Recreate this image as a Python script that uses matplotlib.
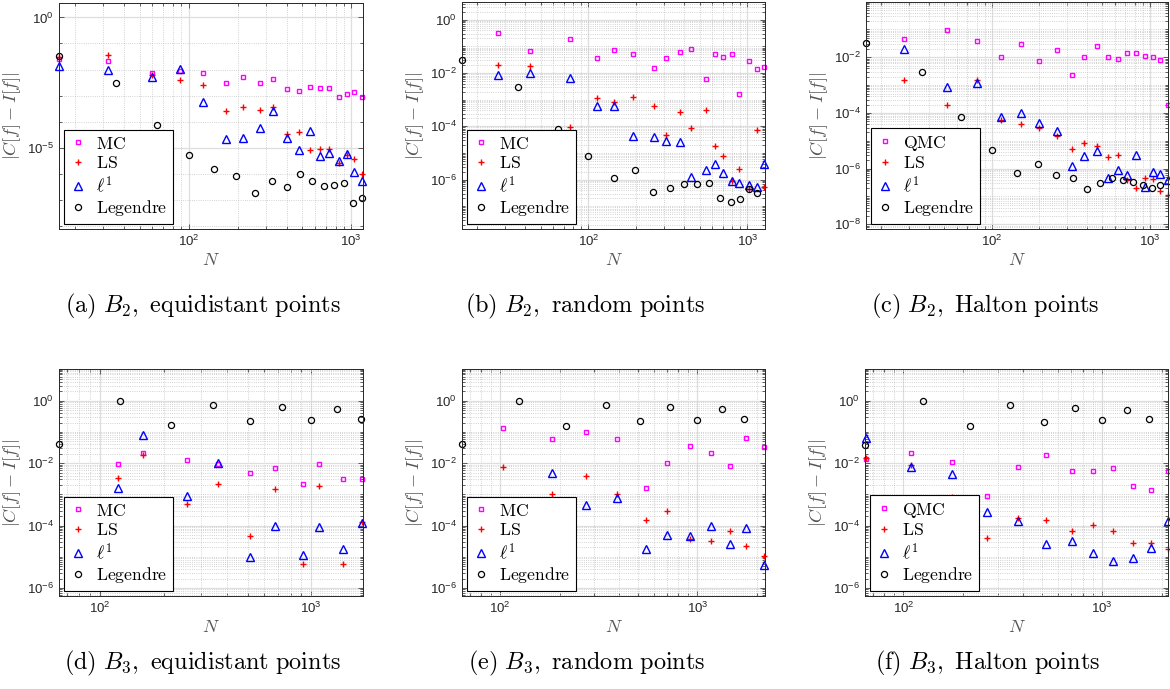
import numpy as np
import matplotlib
matplotlib.use("Agg")
import matplotlib.pyplot as plt
from matplotlib.ticker import FixedLocator, LogLocator, NullFormatter

plt.rcParams["font.family"] = ["Liberation Sans", "DejaVu Sans"]
plt.rcParams["mathtext.fontset"] = "cm"

# ---- data --------------------------------------------------------------
n_leg_2d = [16, 36, 64, 100, 144, 196, 256, 324, 400, 484, 576, 676, 784, 900, 1024, 1156]
n_leg_3d = [64, 125, 216, 343, 512, 729, 1000, 1331, 1728]

# (a) B2, equidistant
n_a = [16, 32, 60, 88, 123, 171, 215, 273, 330, 402, 479, 554, 639, 729, 840, 940, 1042, 1170]
mc_a = [2.6e-2, 2.09e-2, 7.1e-3, 8.9e-3, 7.1e-3, 3.1e-3, 5.1e-3, 2.9e-3, 4.4e-3, 1.8e-3,
        1.55e-3, 2.2e-3, 1.95e-3, 1.95e-3, 8.9e-4, 1.1e-3, 1.4e-3, 9.1e-4]
ls_a = [3.1e-2, 3.5e-2, 6.0e-3, 3.9e-3, 2.6e-3, 2.5e-4, 3.5e-4, 2.9e-4, 3.6e-4, 3.2e-5,
        3.8e-5, 7.9e-6, 8.7e-6, 8.7e-6, 2.6e-6, 5.1e-6, 3.5e-6, 9.3e-7]
l1_a = [1.4e-2, 1.0e-2, 5.2e-3, 1.02e-2, 5.8e-4, 2.2e-5, 2.4e-5, 5.5e-5, 2.6e-4, 2.4e-5,
        7.9e-6, 4.2e-5, 4.8e-6, 6.2e-6, 3.1e-6, 5.5e-6, 1.1e-6, 5.2e-7]
leg_a = [3.2e-2, 2.9e-3, 7.2e-5, 5.1e-6, 1.5e-6, 7.9e-7, 1.8e-7, 5.1e-7, 3.1e-7, 9.8e-7,
         5.1e-7, 3.2e-7, 3.5e-7, 4.2e-7, 7.2e-8, 1.2e-7]

# (b) B2, random
n_b = [27, 43, 76, 113, 145, 191, 259, 308, 379, 443, 551, 628, 705, 796, 890, 1025, 1141, 1274]
mc_b = [0.32, 6.6e-2, 0.195, 3.7e-2, 7.1e-2, 5.0e-2, 1.48e-2, 3.5e-2, 6.2e-2, 7.8e-2,
        5.8e-3, 5.2e-2, 4.1e-2, 5.1e-2, 1.6e-3, 2.9e-2, 1.38e-2, 1.74e-2]
ls_b = [1.95e-2, 1.78e-2, 9.1e-5, 1.17e-3, 8.1e-4, 1.29e-3, 5.6e-4, 4.6e-5, 3.3e-4, 8.9e-5,
        4.2e-4, 1.8e-5, 7.4e-6, 9.1e-7, 2.5e-6, 4.5e-7, 7.1e-5, 5.2e-7]
l1_b = [8.1e-3, 1.0e-2, 6.3e-3, 5.8e-4, 5.8e-4, 4.2e-5, 4.0e-5, 2.8e-5, 2.5e-5, 1.3e-6,
        2.2e-6, 3.7e-6, 1.7e-6, 9.1e-7, 7.2e-7, 6.2e-7, 5.1e-7, 4.0e-6]
leg_b = [3.2e-2, 3.0e-3, 7.8e-5, 7.4e-6, 1.15e-6, 2.2e-6, 3.3e-7, 4.9e-7, 6.9e-7, 7.1e-7,
         7.4e-7, 2.1e-7, 1.4e-7, 1.8e-7, 4.4e-7, 3.2e-7]

# (c) B2, Halton
n_c = [28, 52, 80, 114, 152, 200, 257, 322, 384, 462, 540, 624, 719, 819, 929, 1040, 1157, 1300]
mc_c = [4.5e-2, 9.3e-2, 4.0e-2, 1.0e-2, 3.0e-2, 7.4e-3, 1.8e-2, 2.4e-3, 1.0e-2, 2.6e-2,
        1.05e-2, 8.7e-3, 1.38e-2, 1.38e-2, 1.15e-2, 1.05e-2, 7.9e-3, 2.0e-4]
ls_c = [1.48e-3, 2.0e-4, 1.5e-3, 5.5e-5, 3.9e-5, 3.0e-5, 1.5e-5, 5.1e-6, 8.3e-6, 6.3e-6,
        2.6e-6, 3.0e-6, 3.8e-7, 2.0e-7, 4.6e-7, 4.4e-7, 1.6e-7, 1.15e-7]
l1_c = [2.0e-2, 8.3e-4, 1.2e-3, 7.1e-5, 1.0e-4, 4.2e-5, 2.3e-5, 1.2e-6, 2.8e-6, 4.4e-6,
        4.5e-7, 8.7e-7, 5.8e-7, 3.0e-6, 2.2e-7, 7.4e-7, 6.6e-7, 3.8e-7]
leg_c = [3.3e-2, 3.0e-3, 7.2e-5, 4.5e-6, 7.2e-7, 1.45e-6, 5.8e-7, 4.6e-7, 1.8e-7, 3.0e-7,
         4.8e-7, 3.8e-7, 3.3e-7, 2.5e-7, 2.1e-7, 2.5e-7]

# (d) B3, equidistant
n_d = [122, 160, 257, 361, 514, 675, 920, 1091, 1413, 1740]
mc_d = [9.5e-3, 2.1e-2, 1.29e-2, 9.5e-3, 4.8e-3, 6.8e-3, 2.2e-3, 9.3e-3, 3.1e-3, 3.0e-3]
ls_d = [3.3e-3, 1.9e-2, 5.0e-4, 2.1e-3, 4.7e-5, 1.5e-3, 5.9e-6, 1.9e-3, 5.9e-6, 1.26e-4]
l1_d = [1.6e-3, 7.8e-2, 8.9e-4, 1.0e-2, 1.0e-5, 9.8e-5, 1.17e-5, 8.9e-5, 1.74e-5, 1.23e-4]
leg_d = [4.1e-2, 1.02, 0.162, 0.76, 0.224, 0.63, 0.245, 0.55, 0.27]

# (e) B3, random
n_e = [103, 184, 271, 392, 547, 702, 918, 1173, 1458, 1771, 2176]
mc_e = [0.132, 5.9e-2, 9.8e-2, 5.9e-2, 1.55e-3, 1.05e-2, 3.6e-2, 2.2e-2, 7.9e-3, 6.6e-2, 3.4e-2]
ls_e = [7.6e-3, 1.0e-3, 3.9e-3, 1.05e-3, 1.5e-4, 2.9e-4, 3.7e-5, 3.2e-5, 6.9e-5, 2.2e-5, 1.02e-5]
l1_e = [np.nan, 4.9e-3, 4.6e-4, 7.8e-4, 1.8e-5, 5.1e-5, 4.6e-5, 9.5e-5, 2.6e-5, 8.3e-5, 5.5e-6]
leg_e = [4.0e-2, 1.02, 0.158, 0.76, 0.219, 0.63, 0.245, 0.55, 0.27]

# (f) B3, Halton
n_f = [65, 109, 175, 264, 379, 525, 703, 900, 1140, 1440, 1763, 2150]
mc_f = [1.35e-2, 2.1e-2, 1.07e-2, 9.1e-4, 7.6e-3, 1.9e-2, 5.8e-3, 5.8e-3, 6.8e-3, 1.8e-3, 1.4e-3, 5.6e-3]
ls_f = [1.5e-2, 8.7e-3, 8.1e-4, 4.1e-5, 1.7e-4, 1.5e-4, 6.6e-5, 1.07e-4, 6.8e-5, 2.8e-5, 2.8e-5, 1.8e-5]
l1_f = [6.2e-2, 7.6e-3, 4.5e-3, 2.7e-4, 1.4e-4, 2.5e-5, 3.3e-5, 1.3e-5, 7.4e-6, 9.1e-6, 1.95e-5, 1.4e-4]
leg_f = [3.7e-2, 0.98, 0.155, 0.72, 0.214, 0.60, 0.24, 0.51, 0.26]

captions = [r"$\mathrm{(a)\ }B_2\mathrm{,\ equidistant\ points}$",
            r"$\mathrm{(b)\ }B_2\mathrm{,\ random\ points}$",
            r"$\mathrm{(c)\ }B_2\mathrm{,\ Halton\ points}$",
            r"$\mathrm{(d)\ }B_3\mathrm{,\ equidistant\ points}$",
            r"$\mathrm{(e)\ }B_3\mathrm{,\ random\ points}$",
            r"$\mathrm{(f)\ }B_3\mathrm{,\ Halton\ points}$"]

# ---- layout (pixel boxes: left, top, right, bottom) ---------------------
W, H = 1170, 689
boxes = [(59, 3, 363, 229), (462, 2, 765, 229), (866, 2, 1168, 229),
         (59, 369, 363, 596), (462, 369, 765, 596), (865, 369, 1168, 596)]
caption_xy = [(203, 306), (585, 306), (985, 306), (203, 663), (587, 663), (988, 663)]

panels = [
    dict(n=n_a, mc=mc_a, ls=ls_a, l1=l1_a, nl=n_leg_2d, leg=leg_a, first="MC",
         xlim=(16, 1180), ylim=(7.4e-9, 3.6), yt=[1e-5, 1e0], dense=False),
    dict(n=n_b, mc=mc_b, ls=ls_b, l1=l1_b, nl=n_leg_2d, leg=leg_b, first="MC",
         xlim=(16, 1290), ylim=(1.4e-8, 4.6), yt=[1e-6, 1e-4, 1e-2, 1e0], dense=True),
    dict(n=n_c, mc=mc_c, ls=ls_c, l1=l1_c, nl=n_leg_2d, leg=leg_c, first="QMC",
         xlim=(16, 1300), ylim=(6.8e-9, 0.97), yt=[1e-8, 1e-6, 1e-4, 1e-2], dense=True),
    dict(n=n_d, mc=mc_d, ls=ls_d, l1=l1_d, nl=n_leg_3d, leg=leg_d, first="MC",
         xlim=(64, 1760), ylim=(5.5e-7, 10.5), yt=[1e-6, 1e-4, 1e-2, 1e0], dense=True),
    dict(n=n_e, mc=mc_e, ls=ls_e, l1=l1_e, nl=n_leg_3d, leg=leg_e, first="MC",
         xlim=(64, 2200), ylim=(5.5e-7, 10.5), yt=[1e-6, 1e-4, 1e-2, 1e0], dense=True),
    dict(n=n_f, mc=mc_f, ls=ls_f, l1=l1_f, nl=n_leg_3d, leg=leg_f, first="QMC",
         xlim=(64, 2150), ylim=(5.5e-7, 10.5), yt=[1e-6, 1e-4, 1e-2, 1e0], dense=True),
]

dark = "#262626"
fig = plt.figure(figsize=(W / 100, H / 100), dpi=100)

for p, (l, t, r, b), cap, (cx, cy) in zip(panels, boxes, captions, caption_xy):
    ax = fig.add_axes([l / W, 1 - b / H, (r - l) / W, (b - t) / H])
    ax.set_xscale("log")
    ax.set_yscale("log")
    ax.plot(p["n"], p["mc"], "s", color="#ff00ff", mfc="none", ms=3.4, mew=1.0,
            label=rf"$\mathrm{{{p['first']}}}$", clip_on=False)
    ax.plot(p["n"], p["ls"], "+", color="#ff0000", ms=4.2, mew=1.0,
            label=r"$\mathrm{LS}$", clip_on=False)
    ax.plot(p["n"], p["l1"], "^", color="#0000ff", mfc="none", ms=5.2, mew=1.0,
            label=r"$\ell^1$", clip_on=False)
    ax.plot(p["nl"], p["leg"], "o", color="black", mfc="none", ms=4.4, mew=0.9,
            label=r"$\mathrm{Legendre}$", clip_on=False)

    ax.set_xlim(*p["xlim"])
    ax.set_ylim(*p["ylim"])
    ax.yaxis.set_major_locator(FixedLocator(p["yt"]))
    if p["dense"]:
        ax.yaxis.set_minor_locator(LogLocator(base=10, subs=np.arange(1, 10), numticks=40))
    else:
        ax.yaxis.set_minor_locator(LogLocator(base=10, subs=(1.0,), numticks=40))
    ax.yaxis.set_minor_formatter(NullFormatter())
    ax.xaxis.set_major_locator(FixedLocator([1e2, 1e3]))
    ax.xaxis.set_minor_locator(LogLocator(base=10, subs=np.arange(2, 10), numticks=40))
    ax.xaxis.set_minor_formatter(NullFormatter())

    ax.grid(True, which="major", color="#dedede", lw=0.9, ls="-")
    ax.grid(True, which="minor", color="#c4c4c4", lw=0.6, ls=":")
    ax.set_axisbelow(True)
    ax.tick_params(which="both", direction="in", top=True, right=True, color=dark,
                   labelcolor=dark, labelsize=9.5, width=0.5)
    ax.tick_params(which="major", length=3.5)
    ax.tick_params(which="minor", length=2)
    for s in ax.spines.values():
        s.set_color(dark)
        s.set_linewidth(0.7)

    ax.set_ylabel(r"$|C[f]-I[f]|$", fontsize=13, color="#555555", labelpad=3)
    ax.set_xlabel(r"$N$", fontsize=13, color="#555555", labelpad=2)

    lg = ax.legend(loc="lower left", fontsize=12.7, frameon=True, fancybox=False,
                   edgecolor="black", framealpha=1, borderaxespad=0.3, borderpad=0.3,
                   handlelength=1.0, handletextpad=0.5, labelspacing=0.15)
    lg.get_frame().set_linewidth(0.8)

    fig.text(cx / W, 1 - cy / H, cap, ha="center", va="center", fontsize=17.5, color="black")

fig.savefig("out.png", dpi=100)
